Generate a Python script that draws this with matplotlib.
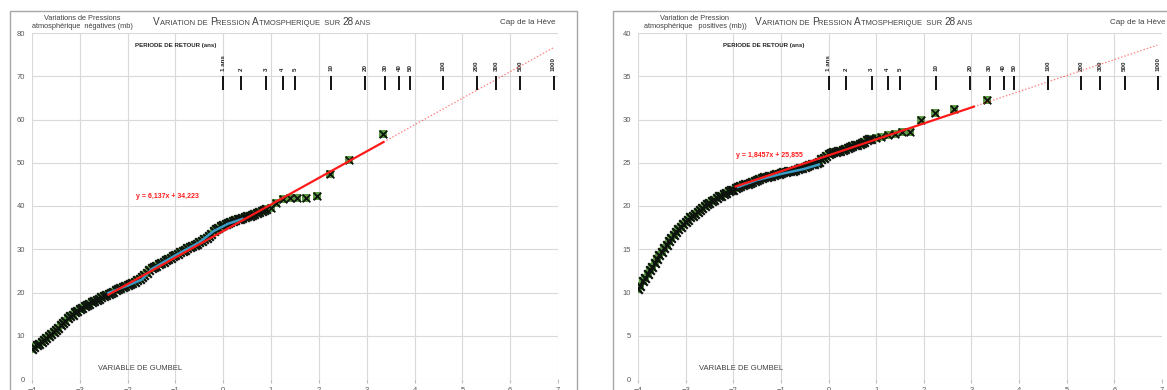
import matplotlib
matplotlib.use("Agg")
import matplotlib.pyplot as plt
from matplotlib.patches import Rectangle
from matplotlib.offsetbox import TextArea, HPacker, AnchoredOffsetbox

plt.rcParams['font.family'] = ['Liberation Sans', 'DejaVu Sans']

# ---------------------------------------------------------------- data
# Gumbel reduced variable of the plotted samples (dense part, then upper tail)
gumbel_dense = [round(-4.0 + 0.05 * i, 2) for i in range(99)]
gumbel_tail = [0.99, 1.11, 1.24, 1.39, 1.55, 1.72, 1.95, 2.24, 2.63, 3.33]

neg_dense = [7.0, 7.4, 7.8, 8.2, 8.6, 9.1, 9.5, 10.0, 10.4, 10.9,
             11.3, 11.9, 12.4, 12.9, 13.4, 14.0, 14.5, 14.9, 15.4, 15.8,
             16.2, 16.5, 16.8, 17.1, 17.4, 17.7, 18.0, 18.3, 18.6, 18.9,
             19.2, 19.4, 19.7, 20.0, 20.2, 20.5, 20.7, 21.0, 21.2, 21.5,
             21.7, 22.0, 22.2, 22.5, 22.8, 23.1, 23.5, 24.0, 24.6, 25.1,
             25.6, 25.9, 26.2, 26.5, 26.8, 27.1, 27.4, 27.7, 28.0, 28.4,
             28.7, 29.0, 29.3, 29.6, 29.9, 30.2, 30.5, 30.8, 31.0, 31.3,
             31.6, 31.9, 32.3, 32.7, 33.1, 33.6, 34.2, 34.7, 35.0, 35.3,
             35.6, 35.8, 36.0, 36.3, 36.5, 36.7, 36.9, 37.1, 37.3, 37.5,
             37.7, 37.8, 38.0, 38.2, 38.4, 38.6, 38.8, 39.0, 39.2]
neg_tail = [39.6, 40.6, 41.6, 41.9, 41.9, 41.9, 42.2, 47.3, 50.6, 56.6]

pos_dense = [10.4, 10.8, 11.3, 11.7, 12.1, 12.6, 13.0, 13.4, 13.9, 14.3,
             14.7, 15.1, 15.5, 15.9, 16.3, 16.7, 17.0, 17.3, 17.6, 17.9,
             18.2, 18.4, 18.7, 18.9, 19.1, 19.3, 19.5, 19.8, 20.0, 20.2,
             20.4, 20.6, 20.7, 20.9, 21.1, 21.2, 21.4, 21.5, 21.7, 21.8,
             21.9, 22.1, 22.2, 22.3, 22.4, 22.5, 22.6, 22.7, 22.8, 22.9,
             23.0, 23.1, 23.2, 23.3, 23.4, 23.5, 23.5, 23.6, 23.7, 23.7,
             23.8, 23.9, 23.9, 24.0, 24.1, 24.1, 24.2, 24.3, 24.4, 24.4,
             24.5, 24.6, 24.7, 24.8, 24.9, 25.0, 25.1, 25.4, 25.6, 25.8,
             26.0, 26.1, 26.2, 26.3, 26.4, 26.4, 26.5, 26.6, 26.7, 26.8,
             26.9, 27.0, 27.1, 27.2, 27.3, 27.4, 27.6, 27.7, 27.8]
pos_tail = [27.9, 28.0, 28.2, 28.3, 28.5, 28.55, 29.9, 30.7, 31.2, 32.3]

# smoothed curves (blue)
neg_smooth_u = [-2.4, -2.0, -1.7, -1.5, -1.0, -0.5, -0.2, 0.1, 0.4]
neg_smooth_v = [19.9, 21.6, 23.0, 25.4, 28.6, 31.6, 34.2, 35.9, 37.0]
pos_smooth_u = [-1.9, -1.5, -1.0, -0.5, -0.2]
pos_smooth_v = [22.2, 23.0, 23.7, 24.3, 24.8]

# linear fits: slope, intercept, fitted range, extrapolation end
neg_fit = (6.137, 34.223)
pos_fit = (1.8457, 25.855)
neg_fit_range = (-2.4, 3.35)
pos_fit_range = (-1.95, 3.05)
extrap_end = 6.9

# return periods and their Gumbel positions
return_labels = ["1 ans", "2", "3", "4", "5", "10", "20", "30", "40", "50",
                 "100", "200", "300", "500", "1000"]
return_pos = [0.0, 0.367, 0.903, 1.246, 1.500, 2.250, 2.970, 3.384, 3.676,
              3.902, 4.600, 5.296, 5.702, 6.214, 6.907]

x_ticks = [-4, -3, -2, -1, 0, 1, 2, 3, 4, 5, 6, 7]
neg_yticks = [0, 10, 20, 30, 40, 50, 60, 70, 80]
pos_yticks = [0, 5, 10, 15, 20, 25, 30, 35, 40]

# ---------------------------------------------------------------- figure
W, H = 1167, 390
fig = plt.figure(figsize=(W / 100, H / 100), dpi=100)


def fx(px):
    return px / W


def fy(py):
    return 1 - py / H


# outer chart frames
for x0, x1 in [(10, 577), (613, 1200)]:
    fig.add_artist(Rectangle((fx(x0), fy(420)), fx(x1 - x0), (420 - 11) / H,
                             transform=fig.transFigure, fill=False,
                             edgecolor='#a6a6a6', lw=1.0, clip_on=False))

TICK_C = '#595959'
GRID_C = '#d9d9d9'
GREEN = '#5e9c45'
DARK = '#0d140d'
RED = '#ff1a1a'
TEAL = '#3a9cc4'


def small_caps(parts, xc, yc):
    boxes = [TextArea(t, textprops=dict(fontsize=s, color='#404040'))
             for t, s in parts]
    pack = HPacker(children=boxes, align='baseline', pad=0, sep=0)
    ab = AnchoredOffsetbox(loc='center', child=pack, pad=0, borderpad=0,
                           frameon=False, bbox_to_anchor=(xc, yc),
                           bbox_transform=fig.transFigure)
    fig.add_artist(ab)


title_parts = [("V", 7.2), ("ARIATION DE ", 5.4), ("P", 7.2), ("RESSION ", 5.4),
               ("A", 7.2), ("TMOSPHERIQUE  SUR ", 5.4), ("28", 7.2), (" ANS", 5.4)]


def panel(left_px, right_px, yticks, ymax, dense, tail, smooth_u, smooth_v,
          fit, fit_range, eq_text, eq_xy, ylab, title_cx, gumbel_xy,
          period_xy, tick_len):
    ax = fig.add_axes([fx(left_px), fy(379), fx(right_px - left_px), (379 - 33) / H])
    ax.set_xlim(-4, 7)
    ax.set_ylim(0, ymax)
    ax.set_xticks(x_ticks)
    ax.set_yticks(yticks)
    ax.grid(True, color=GRID_C, lw=0.8)
    ax.set_axisbelow(True)
    for s in ax.spines.values():
        s.set_visible(False)
    ax.tick_params(axis='both', labelsize=5.5, colors=TICK_C, length=0, pad=5)
    ax.tick_params(axis='x', length=3, color='#bfbfbf', pad=3)

    # samples: dense part drawn heavier, upper tail as distinct markers
    ax.scatter(gumbel_dense, dense, marker='s', s=34, color=GREEN, lw=0, zorder=3)
    ax.scatter(gumbel_dense, dense, marker='x', s=38, color=DARK, lw=1.6, zorder=4)
    ax.scatter(gumbel_tail, tail, marker='s', s=30, color=GREEN, lw=0, zorder=3)
    ax.scatter(gumbel_tail, tail, marker='x', s=30, color=DARK, lw=1.3, zorder=4)

    # smoothed curve
    ax.plot(smooth_u, smooth_v, color=TEAL, lw=1.8, zorder=5)

    # linear fit and its extrapolation
    a, b = fit
    x0, x1 = fit_range
    ax.plot([x0, x1], [a * x0 + b, a * x1 + b], color=RED, lw=1.6, zorder=6)
    ax.plot([x1, extrap_end], [a * x1 + b, a * extrap_end + b],
            color=RED, lw=0.9, ls=(0, (1.2, 1.5)), alpha=0.55, zorder=6)
    ax.text(eq_xy[0], eq_xy[1], eq_text, color=RED, fontsize=5,
            fontweight='bold', va='center', ha='left', zorder=7)

    # return period scale
    top = yticks[-2]
    for u, lab in zip(return_pos, return_labels):
        ax.plot([u, u], [top, top - tick_len], color='black', lw=1.3, zorder=7,
                solid_capstyle='butt')
        ax.annotate(lab, (u, top), xytext=(0, 4), textcoords='offset points',
                    rotation=90, ha='center', va='bottom', fontsize=4.5,
                    fontweight='bold', color='#262626',
                    family=['Liberation Sans Narrow', 'Liberation Sans'])
    ax.text(period_xy[0], period_xy[1], "PERIODE DE RETOUR (ans)", fontsize=4.4,
            fontweight='bold', color='#262626', va='center', ha='left',
            family=['Liberation Sans Narrow', 'Liberation Sans'])
    ax.text(gumbel_xy[0], gumbel_xy[1], "VARIABLE DE GUMBEL", fontsize=5.5,
            color='#404040', ha='center', va='center')

    # header
    fig.text(fx(ylab[1]), fy(22), ylab[0], fontsize=5.3, color='#404040',
             ha='center', va='center', linespacing=1.2)
    small_caps(title_parts, fx(title_cx), fy(22))
    return ax


panel(32, 558, neg_yticks, 80, neg_dense, neg_tail, neg_smooth_u, neg_smooth_v,
      neg_fit, neg_fit_range, "y = 6,137x + 34,223", (-1.82, 42.2),
      ("Variations de Pressions\natmosphérique  négatives (mb)", 82), 262,
      (-1.74, 2.4), (-1.85, 77.0), 3.2)
fig.text(fx(555), fy(22), "Cap de la Hève", fontsize=5.8, color='#404040',
         ha='right', va='center')

panel(638, 1162, pos_yticks, 40, pos_dense, pos_tail, pos_smooth_u, pos_smooth_v,
      pos_fit, pos_fit_range, "y = 1,8457x + 25,855", (-1.95, 25.85),
      ("Variation de Pression\natmosphérique   positives (mb))", 695), 864,
      (-1.84, 1.25), (-2.21, 38.5), 1.6)
fig.text(fx(1110), fy(22), "Cap de la Hève", fontsize=5.8, color='#404040',
         ha='left', va='center')

fig.savefig("out.png", dpi=100)
